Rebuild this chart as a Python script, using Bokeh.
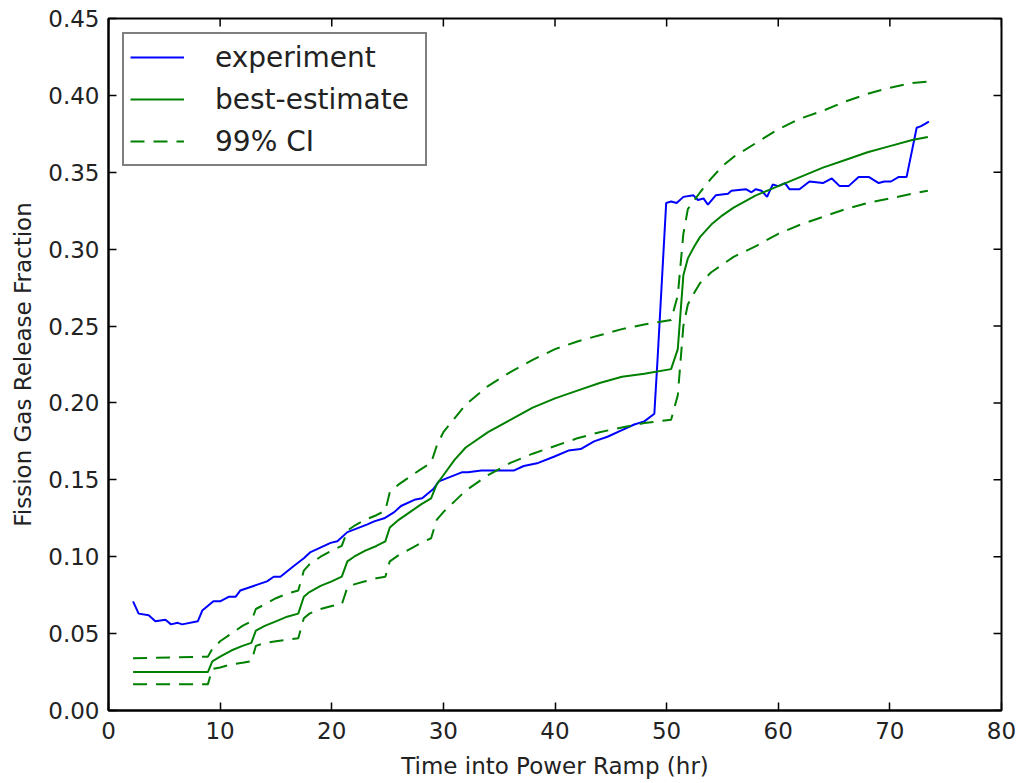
import math
from bokeh.plotting import figure
from bokeh.models import Range1d, FixedTicker, NumeralTickFormatter, Legend, LegendItem
from bokeh.embed import file_html
from bokeh.resources import INLINE

# ---------------- data ----------------
exp_time = [2.2, 2.7, 3.6, 4.2, 5.1, 5.6, 6.2, 6.6, 8.0, 8.4, 9.4, 10.0, 10.8, 11.4, 11.8,
            13.0, 14.2, 14.8, 15.4, 16.6, 17.5, 18.1, 19.9, 20.5, 21.4, 23.2, 23.8, 24.7,
            25.6, 26.2, 27.4, 28.1, 29.1, 29.6, 31.7, 32.2, 33.4, 34.5, 36.3, 37.2, 38.5,
            39.9, 41.2, 42.3, 43.5, 44.7, 45.9, 47.1, 48.0, 48.9, 49.2, 49.96, 50.4, 50.9,
            51.5, 52.4, 52.8, 53.3, 53.7, 54.4, 55.5, 55.8, 57.1, 57.6, 58.0, 58.5, 59.0,
            59.5, 60.0, 60.6, 61.0, 61.9, 62.8, 64.0, 64.8, 65.5, 66.3, 67.2, 68.1, 69.0,
            69.5, 70.1, 70.8, 71.5, 72.4, 72.8, 73.5]
exp_fgr = [0.071, 0.063, 0.062, 0.058, 0.059, 0.056, 0.057, 0.056, 0.058, 0.065, 0.071, 0.071,
           0.074, 0.074, 0.078, 0.081, 0.084, 0.087, 0.087, 0.094, 0.099, 0.103, 0.109, 0.110,
           0.116, 0.121, 0.123, 0.125, 0.129, 0.133, 0.137, 0.138, 0.144, 0.149, 0.155, 0.155,
           0.156, 0.156, 0.156, 0.159, 0.161, 0.165, 0.169, 0.170, 0.175, 0.178, 0.182, 0.186,
           0.188, 0.193, 0.230, 0.330, 0.331, 0.330, 0.334, 0.335, 0.332, 0.333, 0.329, 0.335,
           0.336, 0.338, 0.339, 0.337, 0.339, 0.338, 0.334, 0.342, 0.341, 0.343, 0.339, 0.339,
           0.344, 0.343, 0.346, 0.341, 0.341, 0.347, 0.347, 0.343, 0.344, 0.344, 0.347, 0.347,
           0.379, 0.380, 0.383]

model_time = [2.2, 8.9, 9.3, 10, 11, 12, 12.8, 13.2, 14, 15, 16, 17.0, 17.5, 18, 19, 20, 20.9,
              21.4, 22, 23, 24, 24.8, 25.2, 26, 27, 28, 28.9, 29.4, 30, 31, 32, 34, 36, 38,
              40, 42, 44, 46, 48, 50.4, 51.0, 51.5, 51.9, 52.5, 53, 54, 55, 56, 58, 60, 62,
              64, 66, 68, 70, 72, 73.4]
best_fgr = [0.025, 0.025, 0.032, 0.035, 0.039, 0.042, 0.044, 0.052, 0.055, 0.058, 0.061, 0.063,
            0.074, 0.077, 0.081, 0.084, 0.087, 0.097, 0.100, 0.104, 0.107, 0.110, 0.119, 0.124,
            0.129, 0.134, 0.138, 0.147, 0.153, 0.163, 0.171, 0.181, 0.189, 0.197, 0.203, 0.208,
            0.213, 0.217, 0.219, 0.222, 0.235, 0.283, 0.294, 0.302, 0.308, 0.316, 0.322, 0.327,
            0.335, 0.341, 0.347, 0.353, 0.358, 0.363, 0.367, 0.371, 0.373]
ci_upper = [0.034, 0.035, 0.040, 0.045, 0.050, 0.055, 0.058, 0.066, 0.069, 0.073, 0.076, 0.078,
            0.091, 0.095, 0.100, 0.104, 0.107, 0.117, 0.120, 0.124, 0.127, 0.130, 0.142, 0.147,
            0.152, 0.157, 0.161, 0.172, 0.181, 0.190, 0.199, 0.211, 0.220, 0.228, 0.235, 0.240,
            0.244, 0.248, 0.251, 0.254, 0.270, 0.310, 0.326, 0.332, 0.337, 0.346, 0.354, 0.360,
            0.369, 0.378, 0.385, 0.390, 0.396, 0.401, 0.405, 0.408, 0.409]
ci_lower = [0.017, 0.017, 0.027, 0.028, 0.030, 0.031, 0.032, 0.042, 0.044, 0.045, 0.046, 0.047,
            0.060, 0.063, 0.066, 0.068, 0.069, 0.080, 0.082, 0.084, 0.086, 0.087, 0.097, 0.101,
            0.105, 0.109, 0.112, 0.124, 0.129, 0.136, 0.143, 0.153, 0.161, 0.167, 0.172, 0.177,
            0.181, 0.184, 0.187, 0.189, 0.205, 0.250, 0.264, 0.272, 0.278, 0.285, 0.290, 0.295,
            0.302, 0.310, 0.316, 0.321, 0.326, 0.330, 0.333, 0.336, 0.338]

x_ticks = [0, 10, 20, 30, 40, 50, 60, 70, 80]
y_ticks = [0.00, 0.05, 0.10, 0.15, 0.20, 0.25, 0.30, 0.35, 0.40, 0.45]

x_label = "Time into Power Ramp (hr)"
y_label = "Fission Gas Release Fraction"
series_names = ["experiment", "best-estimate", "99% CI"]

# ---------------- figure ----------------
FONT = "DejaVu Sans"
X0, X1 = x_ticks[0], x_ticks[-1]
Y0, Y1 = y_ticks[0], y_ticks[-1]
p = figure(width=1017, height=781, output_backend="svg", toolbar_location=None,
           x_range=Range1d(X0, X1), y_range=Range1d(Y0, Y1),
           min_border_left=108, min_border_right=16, min_border_top=18, min_border_bottom=69,
           x_axis_label=x_label, y_axis_label=y_label)
p.grid.visible = False
p.outline_line_color = "black"
p.outline_line_width = 2
p.background_fill_color = "white"
p.border_fill_color = "white"

xax = p.below[0]
yax = p.left[0]
xax.ticker = FixedTicker(ticks=x_ticks)
yax.ticker = FixedTicker(ticks=y_ticks)
yax.formatter = NumeralTickFormatter(format="0.00")

for ax in [xax, yax]:
    ax.major_tick_in = 8
    ax.major_tick_out = 0
    ax.minor_tick_line_color = None
    ax.axis_line_width = 2
    ax.axis_line_color = "black"
    ax.major_tick_line_width = 1.5
    ax.major_tick_line_color = "black"
    ax.major_label_text_font = FONT
    ax.major_label_text_font_size = "23px"
    ax.major_label_text_color = "#222222"
    ax.axis_label_text_font = FONT
    ax.axis_label_text_font_size = "23px"
    ax.axis_label_text_font_style = "normal"
    ax.axis_label_text_color = "#222222"

xax.major_label_standoff = 11
xax.axis_label_standoff = 11
yax.major_label_standoff = 9
yax.axis_label_standoff = 9

# inward ticks on the top and right frame edges (half of each dash is clipped by the frame)
p.scatter(x_ticks, [Y1] * len(x_ticks), marker="dash", size=16, angle=math.pi / 2,
          line_color="black", line_width=1.5)
p.scatter([X1] * len(y_ticks), y_ticks, marker="dash", size=16,
          line_color="black", line_width=1.5)

BLUE = "#0000ff"
GREEN = "#008000"

r_exp = p.line(exp_time, exp_fgr, line_color=BLUE, line_width=2)
r_best = p.line(model_time, best_fgr, line_color=GREEN, line_width=2)
r_up = p.line(model_time, ci_upper, line_color=GREEN, line_width=2, line_dash="14 9")
r_lo = p.line(model_time, ci_lower, line_color=GREEN, line_width=2, line_dash="14 9")

legend = Legend(items=[LegendItem(label=series_names[0], renderers=[r_exp]),
                       LegendItem(label=series_names[1], renderers=[r_best]),
                       LegendItem(label=series_names[2], renderers=[r_up])],
                location="top_left", margin=14, padding=6, spacing=8,
                glyph_width=54, glyph_height=34, label_height=34, label_standoff=31,
                label_width=204,
                label_text_font=FONT, label_text_font_size="28px", label_text_color="#222222",
                border_line_color="black", border_line_width=2,
                background_fill_color="white", background_fill_alpha=1.0)
p.add_layout(legend)

open("out.html", "w").write(file_html(p, INLINE))
